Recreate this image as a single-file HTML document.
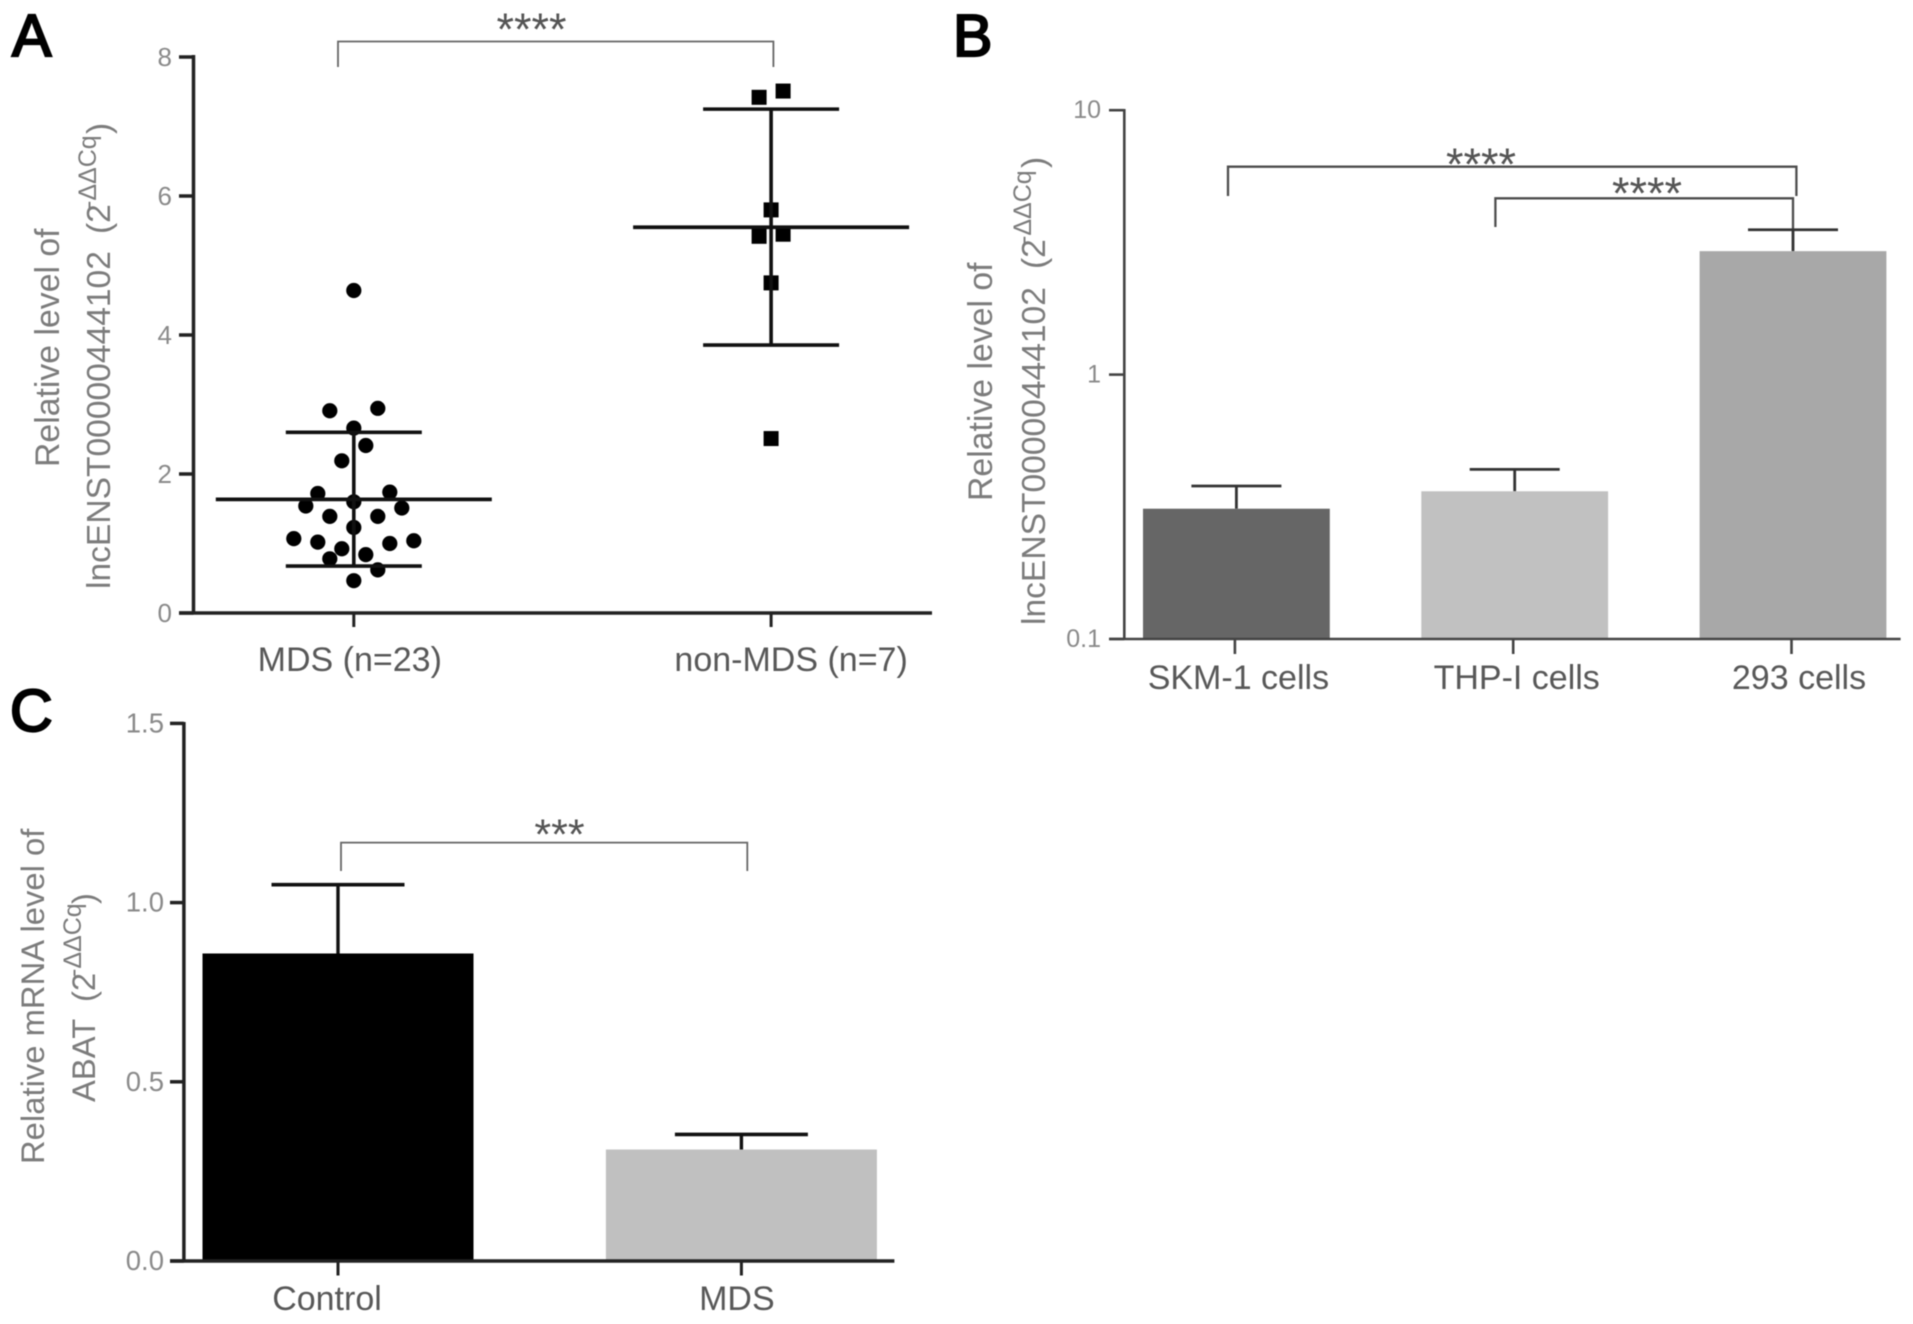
<!DOCTYPE html>
<html lang="en">
<head>
<meta charset="utf-8">
<title>lncENST00000444102 and ABAT expression</title>
<style>
html,body{margin:0;padding:0;background:#fff;width:1913px;height:1324px;overflow:hidden}
svg{display:block}
text{font-family:"Liberation Sans",Arial,sans-serif}
#figure{filter:blur(0.6px)}
.tick{fill:#8a8a8a;font-size:26px;text-anchor:end}
.cat{fill:#585858;font-size:34px;text-anchor:middle}
.title{fill:#7c7c7c;font-size:33.8px}
.sup{font-size:25px}
.stars{fill:#555;font-size:45px;text-anchor:middle}
.letter{fill:#000;stroke:#000;stroke-width:2.2px;font-size:59px}
.bracket{fill:none;stroke:#666;stroke-width:1.8}
.bracket-dark{fill:none;stroke:#4d4d4d;stroke-width:2.3}
</style>
</head>
<body>
<svg id="figure" xmlns="http://www.w3.org/2000/svg" width="1913" height="1324" viewBox="0 0 1913 1324">
  <g id="panel-a">
    <text class="letter" x="12" y="56">A</text>
    <g transform="translate(59,467) rotate(-90)">
      <text class="title" x="0" y="0">Relative level of</text>
      <text class="title" style="font-size:33.6px" x="-122" y="51">lncENST00000444102<tspan x="233">(2</tspan><tspan class="sup" x="258" dy="-14">-ΔΔCq</tspan><tspan x="333" dy="14">)</tspan></text>
    </g>
    <path class="bracket" d="M338 67V41.5H773.4V67"/>
    <text class="stars" x="531.5" y="45">****</text>
    <path d="M193.5 55V614.5M179 613H932" fill="none" stroke="#222" stroke-width="3.5"/>
  </g>
  <g id="panel-b">
    <text class="letter" x="953" y="56">B</text>
    <g transform="translate(992,501) rotate(-90)">
      <text class="title" x="0" y="0">Relative level of</text>
      <text class="title" style="font-size:33.6px" x="-124" y="53">lncENST00000444102<tspan x="232">(2</tspan><tspan class="sup" x="257" dy="-14">-ΔΔCq</tspan><tspan x="333" dy="14">)</tspan></text>
    </g>
    <path class="bracket-dark" d="M1228 196V166.7H1796.4V196"/>
    <path class="bracket-dark" d="M1495.4 227V198.3H1793V229"/>
    <text class="stars" x="1481" y="180">****</text>
    <text class="stars" x="1647" y="209">****</text>
    <g id="panel-b-marks"></g>
    <path d="M1124.3 109V640M1109 639H1900.6" fill="none" stroke="#444" stroke-width="2.6"/>
  </g>
  <g id="panel-c">
    <text class="letter" x="10" y="731">C</text>
    <g transform="translate(44,1164) rotate(-90)">
      <text class="title" style="font-size:32.8px" x="0" y="0">Relative mRNA level of</text>
      <text class="title" style="font-size:32.8px" x="62" y="51">ABAT<tspan x="162">(2</tspan><tspan class="sup" x="187" dy="-14">-ΔΔCq</tspan><tspan x="260" dy="14">)</tspan></text>
    </g>
    <path class="bracket" d="M341 871V842.6H747.3V871"/>
    <text class="stars" style="font-size:43px" x="559.5" y="849">***</text>
    <g id="panel-c-marks"></g>
    <path d="M183.9 722V1262.5M170 1261H894.4" fill="none" stroke="#222" stroke-width="3.5"/>
  </g>
</svg>
<script>
// Panel A data
const aCategories = ['MDS (n=23)', 'non-MDS (n=7)'];
const aTicks = [0, 2, 4, 6, 8];
const mdsValues = [4.64, 2.91, 2.945, 2.66, 2.41, 2.19, 1.72, 1.74, 1.54, 1.51, 1.60, 1.39, 1.39, 1.23, 1.07, 1.04, 1.02, 1.00, 0.925, 0.84, 0.78, 0.62, 0.465];
const mdsSwarmSlots = [0, -2, 2, 0, 1, -1, -3, 3, -4, 4, 0, -2, 2, 0, -5, 5, -3, 3, -1, 1, -2, 2, 0];
const nonMdsValues = [7.51, 7.42, 5.80, 5.45, 5.42, 4.75, 2.51];
const nonMdsSwarmSlots = [1, -1, 0, 1, -1, 0, 0];
const aMeans = [1.635, 5.55];
const aUpper = [2.60, 7.25];
const aLower = [0.676, 3.855];

// Panel B data
const bCategories = ['SKM-1 cells', 'THP-I cells', '293 cells'];
const bTicks = [0.1, 1, 10];
const bValues = [0.311, 0.362, 2.93];
const bErrorTops = [0.379, 0.438, 3.53];
const bColors = ['#666666', '#c1c1c1', '#a8a8a8'];

// Panel C data
const cCategories = ['Control', 'MDS'];
const cTicks = [0, 0.5, 1, 1.5];
const cValues = [0.858, 0.311];
const cErrorTops = [1.05, 0.353];
const cColors = ['#000000', '#c0c0c0'];

const NS = 'http://www.w3.org/2000/svg';
function mk(parent, tag, attrs, txt) {
  const el = document.createElementNS(NS, tag);
  for (const k in attrs) el.setAttribute(k, attrs[k]);
  if (txt !== undefined) el.textContent = txt;
  parent.appendChild(el);
  return el;
}

// Axis functions
const ayScale = v => 613 - v * 69.5;
const axScale = i => 353.8 + i * 417.3;
const swarmStep = 12;
const byScale = v => 639 - (Math.log10(v) + 1) * 264.4;
const bxScale = i => 1236.4 + i * 278.3;
const cyScale = v => 1261 - v * 358.4;
const cxScale = i => 338 + i * 403.4;

function drawSeriesLine(parent, x1, y1, x2, y2, w, name, color) {
  const l = mk(parent, 'line', {x1: x1, y1: y1, x2: x2, y2: y2, stroke: color || '#111', 'stroke-width': w});
  
  
  return l;
}

// ---------- Panel A ----------
const pa = document.getElementById('panel-a');
aTicks.forEach(t => {
  const y = ayScale(t);
  drawSeriesLine(pa, 179, y, 193.5, y, 3.5, 'panel-a-y-tick-' + t, '#222');
  const lab = mk(pa, 'text', {class: 'tick', x: 172, y: y + 9}, String(t));
  
  
});
aCategories.forEach((c, i) => {
  const x = axScale(i);
  drawSeriesLine(pa, x, 613, x, 627, 3, 'panel-a-x-tick-' + i, '#222');
  const lab = mk(pa, 'text', {class: 'cat', x: x - 4 + i * 24, y: 671}, c);
  
  
});
mdsValues.forEach((v, i) => {
  const dot = mk(pa, 'circle', {cx: axScale(0) + mdsSwarmSlots[i] * swarmStep, cy: ayScale(v), r: 7.6, fill: '#000'});
  
  
});
nonMdsValues.forEach((v, i) => {
  const sq = mk(pa, 'rect', {x: axScale(1) + nonMdsSwarmSlots[i] * swarmStep - 7.5, y: ayScale(v) - 7.5, width: 15, height: 15, fill: '#000'});
  
  
});
aMeans.forEach((m, i) => {
  const x = axScale(i);
  drawSeriesLine(pa, x, ayScale(aUpper[i]), x, ayScale(aLower[i]), 3.6, 'panel-a-error-stem-' + i);
  drawSeriesLine(pa, x - 68, ayScale(aUpper[i]), x + 68, ayScale(aUpper[i]), 3.6, 'panel-a-upper-cap-' + i);
  drawSeriesLine(pa, x - 68, ayScale(aLower[i]), x + 68, ayScale(aLower[i]), 3.6, 'panel-a-lower-cap-' + i);
  drawSeriesLine(pa, x - 138, ayScale(m), x + 138, ayScale(m), 3.8, 'panel-a-mean-line-' + i);
});

// ---------- Panel B ----------
const pb = document.getElementById('panel-b-marks');
bTicks.forEach(t => {
  const y = byScale(t);
  drawSeriesLine(pb, 1109, y, 1124.3, y, 2.6, 'panel-b-y-tick-' + t, '#444');
  const lab = mk(pb, 'text', {class: 'tick', x: 1101, y: y + 8, style: 'font-size:25px'}, String(t));
  
  
});
bCategories.forEach((c, i) => {
  const x = bxScale(i);
  const top = byScale(bValues[i]);
  const errTop = byScale(bErrorTops[i]);
  drawSeriesLine(pb, x, errTop, x, top, 2.8, 'panel-b-error-stem-' + i, '#333');
  drawSeriesLine(pb, x - 45, errTop, x + 45, errTop, 2.8, 'panel-b-error-cap-' + i, '#333');
  const bar = mk(pb, 'rect', {x: x - 93.4, y: top, width: 186.8, height: 639 - top, fill: bColors[i]});
  
  
  drawSeriesLine(pb, x - 1.5, 639, x - 1.5, 654, 2.6, 'panel-b-x-tick-' + i, '#444');
  const lab = mk(pb, 'text', {class: 'cat', x: x + (i === 2 ? 6 : 2), y: 689}, c);
  
  
});

// ---------- Panel C ----------
const pc = document.getElementById('panel-c-marks');
cTicks.forEach(t => {
  const y = cyScale(t);
  drawSeriesLine(pc, 170, y, 183.9, y, 3.5, 'panel-c-y-tick-' + t, '#222');
  const lab = mk(pc, 'text', {class: 'tick', x: 164, y: y + 9, style: 'font-size:27.5px'}, t.toFixed(1));
  
  
});
cCategories.forEach((c, i) => {
  const x = cxScale(i);
  const top = cyScale(cValues[i]);
  const errTop = cyScale(cErrorTops[i]);
  drawSeriesLine(pc, x, errTop, x, top, 3.4, 'panel-c-error-stem-' + i);
  drawSeriesLine(pc, x - 66.5, errTop, x + 66.5, errTop, 3.6, 'panel-c-error-cap-' + i);
  const bar = mk(pc, 'rect', {x: x - 135.5, y: top, width: 271, height: 1261 - top, fill: cColors[i]});
  
  
  drawSeriesLine(pc, x, 1261, x, 1275.5, 3, 'panel-c-x-tick-' + i, '#222');
  const lab = mk(pc, 'text', {class: 'cat', x: x - 11 - i * -6.5, y: 1310}, c);
  
  
});
</script>
</body>
</html>
